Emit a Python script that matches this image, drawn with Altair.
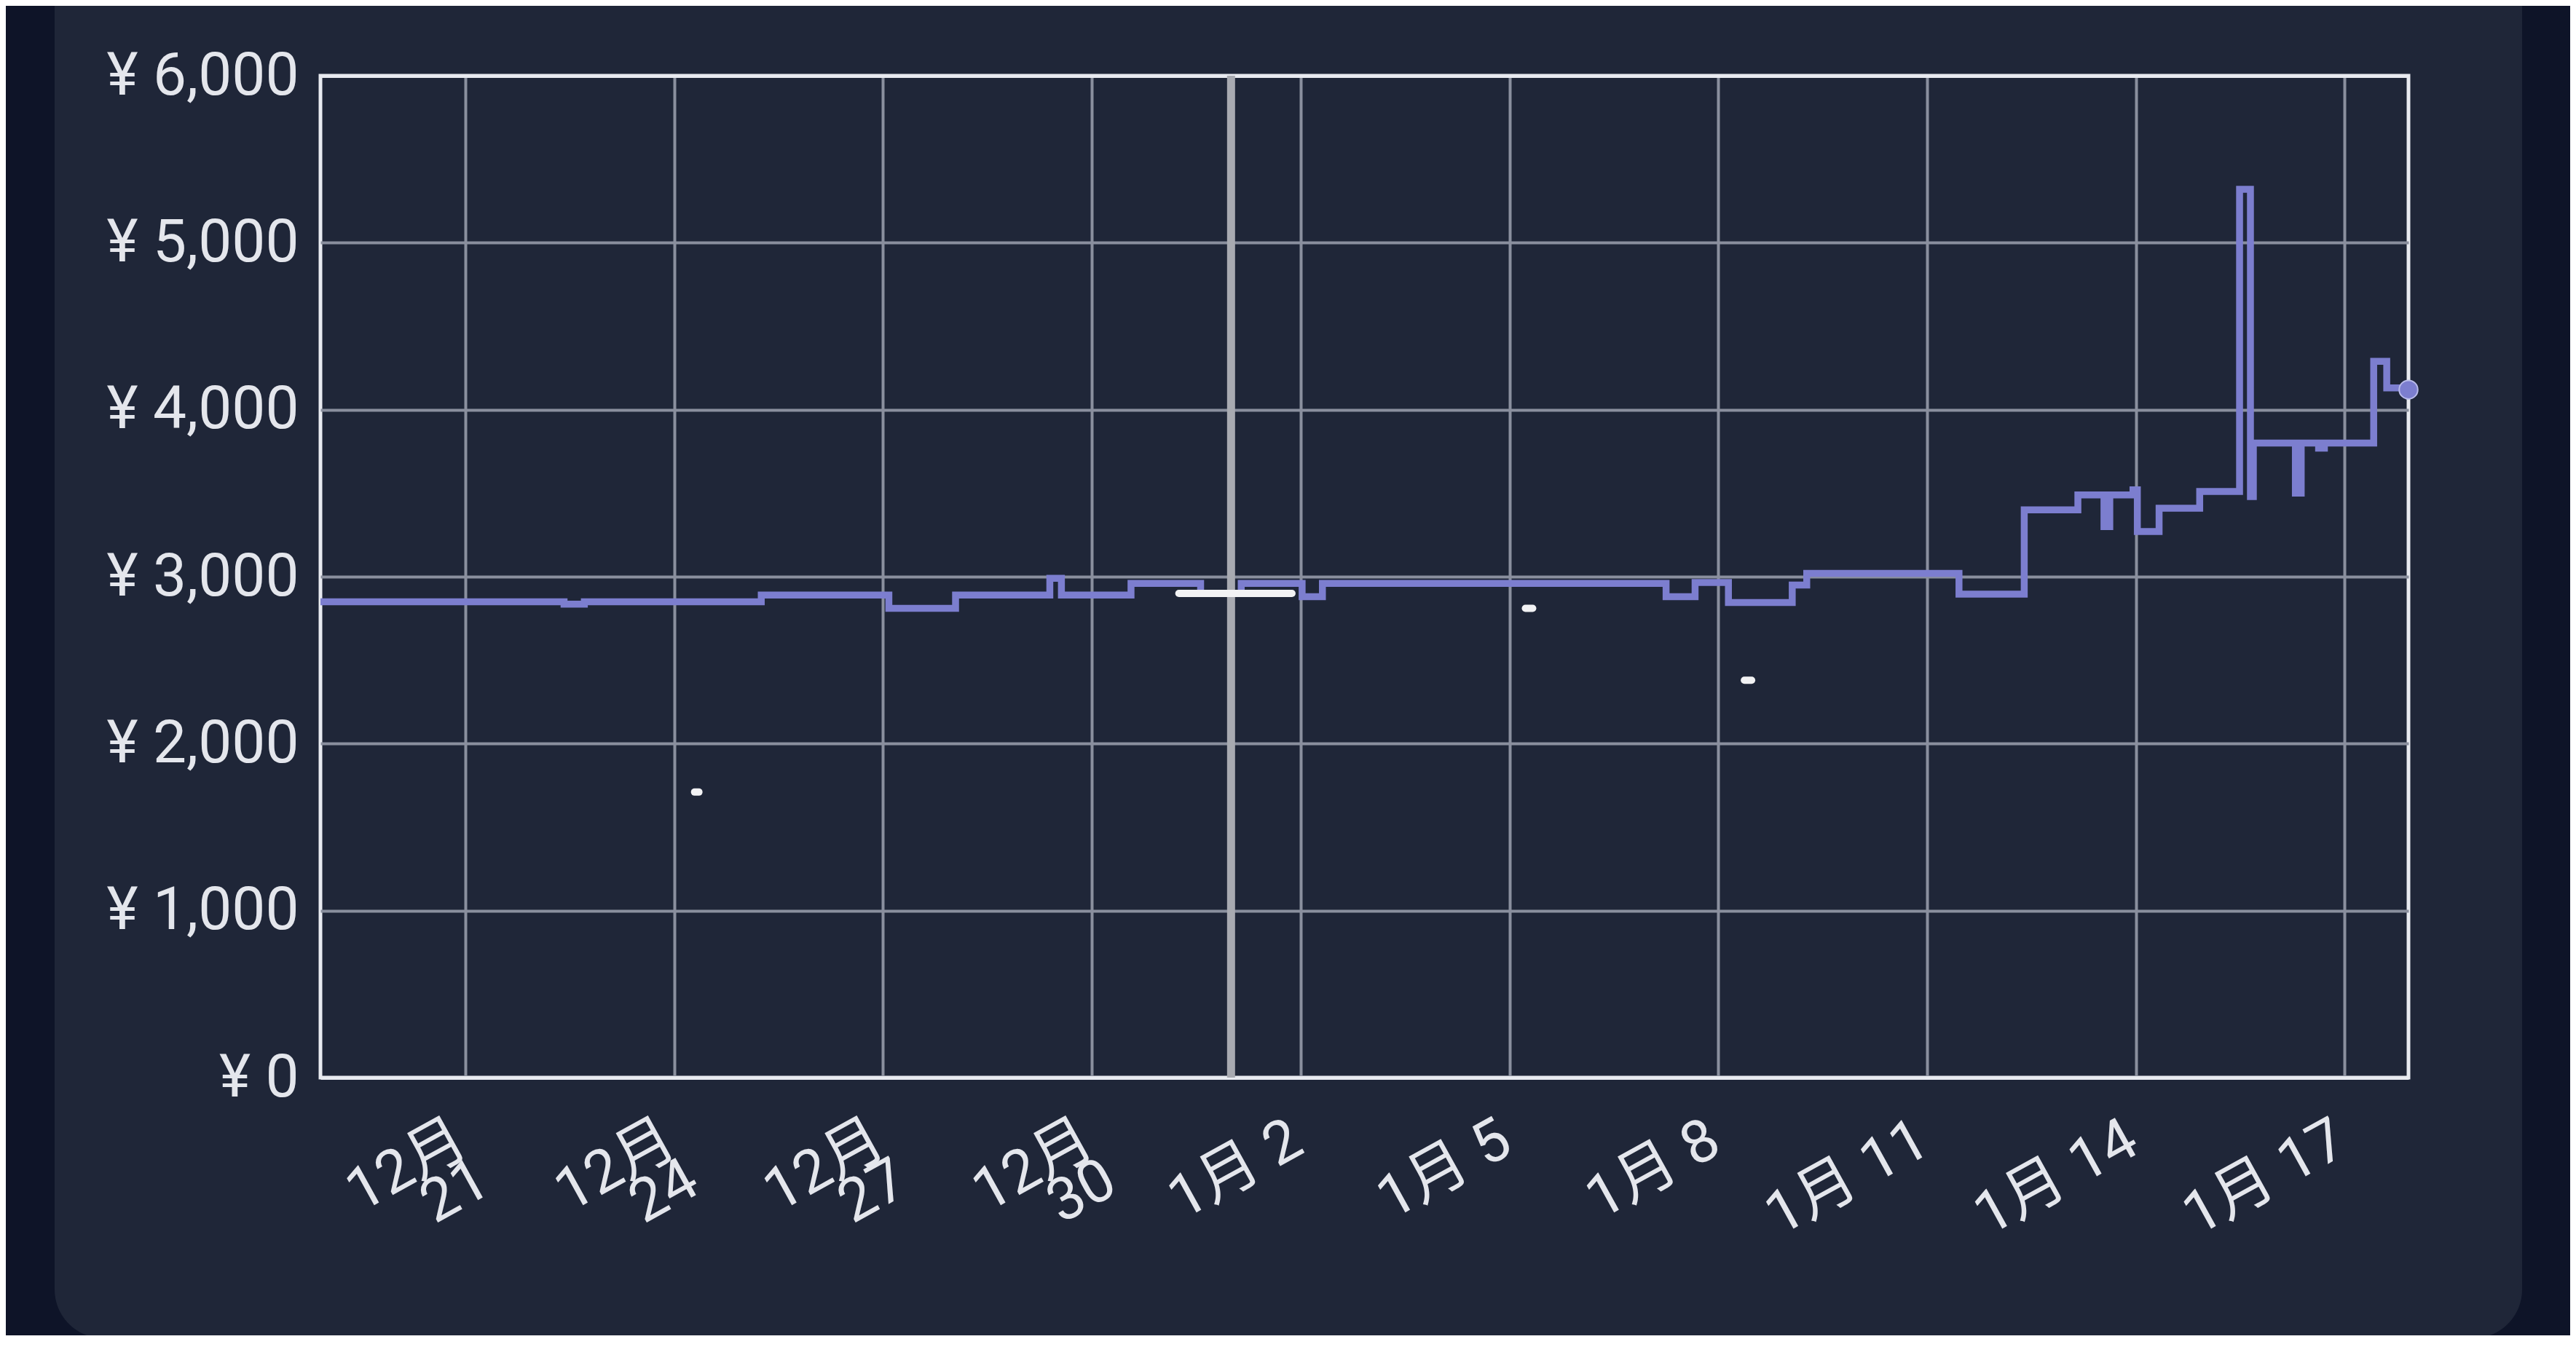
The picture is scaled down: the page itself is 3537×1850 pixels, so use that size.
import altair as alt
import pandas as pd

# ---------------- data ----------------
price_times = [
    "2023-12-18T22:00:00", "2023-12-22T10:00:00", "2023-12-22T17:00:00",
    "2023-12-25T06:00:00", "2023-12-27T02:00:00", "2023-12-28T01:00:00",
    "2023-12-29T09:30:00", "2023-12-29T13:30:00", "2023-12-30T13:30:00",
    "2023-12-31T13:30:00", "2024-01-01T03:30:00", "2024-01-02T00:30:00",
    "2024-01-02T07:30:00", "2024-01-07T06:00:00", "2024-01-07T16:00:00",
    "2024-01-08T03:30:00", "2024-01-09T01:30:00", "2024-01-09T06:30:00",
    "2024-01-11T11:00:00", "2024-01-12T09:30:00", "2024-01-13T04:00:00",
    "2024-01-13T13:00:00", "2024-01-13T15:00:00", "2024-01-13T23:00:00",
    "2024-01-14T00:30:00", "2024-01-14T08:00:00", "2024-01-14T22:00:00",
    "2024-01-15T11:45:00", "2024-01-15T15:30:00", "2024-01-15T16:30:00",
    "2024-01-16T07:00:00", "2024-01-16T09:00:00", "2024-01-16T15:00:00",
    "2024-01-16T17:00:00", "2024-01-17T10:00:00", "2024-01-17T14:30:00",
    "2024-01-17T22:00:00",
]
price_values = [
    2850, 2835, 2850,
    2890, 2810, 2890,
    2990, 2890, 2960,
    2900, 2960, 2880,
    2960, 2880, 2965,
    2845, 2950, 3020,
    2895, 3400, 3490,
    3300, 3490, 3520,
    3270, 3410, 3510,
    5320, 3480, 3800,
    3500, 3800, 3770,
    3800, 4290, 4130,
    4120,
]

low_segments = ["a", "a", "b", "b", "c", "c", "d", "d"]
low_times = [
    "2023-12-24T07:00:00", "2023-12-24T08:30:00",
    "2023-12-31T06:00:00", "2024-01-01T21:00:00",
    "2024-01-05T05:30:00", "2024-01-05T08:00:00",
    "2024-01-08T09:00:00", "2024-01-08T11:30:00",
]
low_values = [1710, 1710, 2900, 2900, 2810, 2810, 2380, 2380]

marker_times = ["2024-01-01T00:00:00"]

x_tick_dates = [(2023, 12, 21), (2023, 12, 24), (2023, 12, 27), (2023, 12, 30),
                (2024, 1, 2), (2024, 1, 5), (2024, 1, 8), (2024, 1, 11),
                (2024, 1, 14), (2024, 1, 17)]
y_ticks = [0, 1000, 2000, 3000, 4000, 5000, 6000]

# ---------------- style ----------------
OUTER = "#0e1428"
CARD = "#1f2638"
PURPLE = "#7c7ecf"
WHITE_LINE = "#f2f2f4"
GRID = "#8a8f9e"
BORDER = "#e8eaf0"
LABEL = "#e4e6ec"
RULE = "#a8aab1"
FONT = "Roboto, 'Noto Sans CJK JP', sans-serif"

price_df = pd.DataFrame({"t": price_times, "v": price_values})
low_df = pd.DataFrame({"seg": low_segments, "t": low_times, "v": low_values})
marker_df = pd.DataFrame({"t": marker_times})
end_df = pd.DataFrame({"t": price_times[-1:], "v": price_values[-1:]})
one = pd.DataFrame({"d": [0]})

x_scale = alt.Scale(
    domain=[alt.DateTime(year=2023, month=12, date=18, hours=22),
            alt.DateTime(year=2024, month=1, date=17, hours=22)],
    nice=False,
)
y_scale = alt.Scale(domain=[0, 6000], nice=False, zero=True)

x_axis = alt.Axis(
    values=[alt.DateTime(year=y, month=m, date=d) for (y, m, d) in x_tick_dates],
    labelExpr="month(datum.value) == 11 ? [(month(datum.value) + 1) + '月', '' + date(datum.value)] : (month(datum.value) + 1) + '月 ' + date(datum.value)",
    labelAngle=-29, labelAlign="right", labelBaseline="top",
    labelFontSize=82, labelFont=FONT, labelColor=LABEL, labelPadding=44,
    labelOffset=-24, labelLimit=0,
    labelLineHeight=63, labelOverlap=False, labelFlush=False,
    ticks=False, domain=False, grid=True, gridColor=GRID, gridWidth=4,
    title=None,
)
y_axis = alt.Axis(
    values=y_ticks,
    labelExpr="'¥ ' + format(datum.value, ',')",
    labelFontSize=82, labelFont=FONT, labelColor=LABEL, labelPadding=30,
    labelBaseline="middle", labelLimit=0,
    ticks=False, domain=False, grid=True,
    gridColor={"condition": {"test": "datum.value == 0 || datum.value == 6000", "value": BORDER}, "value": GRID},
    gridWidth={"condition": {"test": "datum.value == 0 || datum.value == 6000", "value": 5}, "value": 4},
    title=None,
)

# decorative page frame (outer dark border and rounded card bottom)
left_strip = alt.Chart(one).mark_rect(color=OUTER).encode(
    x=alt.value(-440), x2=alt.value(-365), y=alt.value(-110), y2=alt.value(1760))
right_strip = alt.Chart(one).mark_rect(color=OUTER).encode(
    x=alt.value(3023), x2=alt.value(3110), y=alt.value(-110), y2=alt.value(1760))
bottom_strip = alt.Chart(one).mark_rect(color=OUTER).encode(
    x=alt.value(-440), x2=alt.value(3110), y=alt.value(1656), y2=alt.value(1760))
card_bottom = alt.Chart(one).mark_rect(
    color=CARD, cornerRadiusBottomLeft=75, cornerRadiusBottomRight=75
).encode(x=alt.value(-365), x2=alt.value(3023), y=alt.value(1600), y2=alt.value(1734))

rule = alt.Chart(marker_df).mark_rule(color=RULE, strokeWidth=11).encode(
    x=alt.X("t:T", scale=x_scale, axis=x_axis))

line = alt.Chart(price_df).mark_line(
    interpolate="step-after", color=PURPLE, strokeWidth=9.5, strokeJoin="miter"
).encode(
    x=alt.X("t:T", scale=x_scale, axis=x_axis),
    y=alt.Y("v:Q", scale=y_scale, axis=y_axis),
)

low = alt.Chart(low_df).mark_line(
    color=WHITE_LINE, strokeWidth=10, strokeCap="round"
).encode(
    x=alt.X("t:T", scale=x_scale),
    y=alt.Y("v:Q", scale=y_scale),
    detail="seg:N",
)

end_point = alt.Chart(end_df).mark_point(
    shape="circle", filled=True, size=650, color=PURPLE, opacity=1,
    stroke="#b9bbea", strokeWidth=2
).encode(
    x=alt.X("t:T", scale=x_scale),
    y=alt.Y("v:Q", scale=y_scale),
)

chart = alt.layer(
    left_strip, right_strip, bottom_strip, card_bottom, rule, line, low, end_point
).properties(
    width=2867, height=1376,
    padding={"left": 432, "top": 96, "right": 222, "bottom": 354},
    autosize=alt.AutoSizeParams(type="none"),
    background=CARD,
).configure_view(stroke=BORDER, strokeWidth=5)

chart.save("out.html", embed_options={"renderer": "svg", "actions": False})
